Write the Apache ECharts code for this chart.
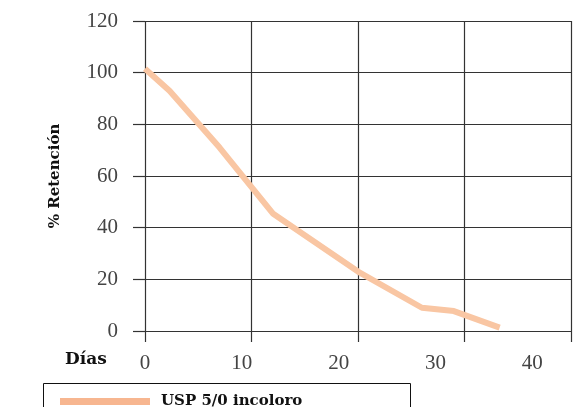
<!DOCTYPE html>
<html><head><meta charset="utf-8">
<script src="https://cdn.jsdelivr.net/npm/echarts@6/dist/echarts.min.js"></script>
<style>html,body{margin:0;padding:0;background:#fff}#c{width:585px;height:407px}</style>
</head><body><div id="c"></div>
<script>
const days = [0, 2.3, 7, 12, 20, 26, 29, 33.3];
const retention = [101.5, 93, 71, 45.5, 23, 9, 7.7, 1.3];
const seriesName = 'USP 5/0 incoloro';
const xTitle = 'Días';
const yTitle = '% Retención';

const chart = echarts.init(document.getElementById('c'));
const F = 'Liberation Serif';
const B = 'DejaVu Serif';
chart.setOption({
  animation: false,
  grid: {left: 145, right: 14, top: 21, bottom: 76},
  xAxis: [{
    type: 'value', min: 0, max: 40, interval: 10,
    axisLine: {show: false},
    axisTick: {show: true, inside: false, length: 11, lineStyle: {color: '#333', width: 1.2}},
    splitLine: {show: true, lineStyle: {color: '#333', width: 1.2}},
    axisLabel: {show: false}
  }, {
    // label row as drawn in the source (labels spaced slightly tighter than the grid)
    type: 'value', position: 'bottom', min: 0, max: 44, interval: 10,
    axisLine: {show: false}, axisTick: {show: false}, splitLine: {show: false},
    axisLabel: {color: '#444', fontFamily: F, fontSize: 21, margin: 22, showMaxLabel: false}
  }],
  yAxis: {
    type: 'value', min: 0, max: 120, interval: 20,
    name: yTitle, nameLocation: 'middle', nameGap: 82, nameRotate: 90,
    nameTextStyle: {fontFamily: B, fontWeight: 'bold', fontSize: 15, color: '#111'},
    axisLine: {show: false},
    axisTick: {show: true, inside: false, length: 12, lineStyle: {color: '#333', width: 1.2}},
    splitLine: {show: true, lineStyle: {color: '#333', width: 1.2}},
    axisLabel: {color: '#444', fontFamily: F, fontSize: 21, margin: 27, padding: [0, 0, 7, 0]}
  },
  legend: {
    left: 55, top: 389, itemWidth: 90, itemHeight: 7, icon: 'rect', itemGap: 10,
    textStyle: {fontFamily: B, fontWeight: 'bold', fontSize: 15, color: '#111', padding: [0,0,0,6]},
    data: [{name: seriesName, itemStyle: {color: '#F7B690'}}]
  },
  graphic: [
    {type: 'rect', shape: {x: 43.5, y: 383.5, width: 367, height: 40}, style: {fill: 'none', stroke: '#111', lineWidth: 1}, z: -1},
    {type: 'text', left: 65, top: 351, style: {text: xTitle, font: 'bold 17px "DejaVu Serif"', fill: '#111'}}
  ],
  series: [{
    name: seriesName, type: 'line', symbol: 'none', xAxisIndex: 0,
    lineStyle: {color: '#F9C6A3', width: 6},
    itemStyle: {color: '#F7B690'},
    data: days.map((d, i) => [d, retention[i]])
  }]
});
</script></body></html>
